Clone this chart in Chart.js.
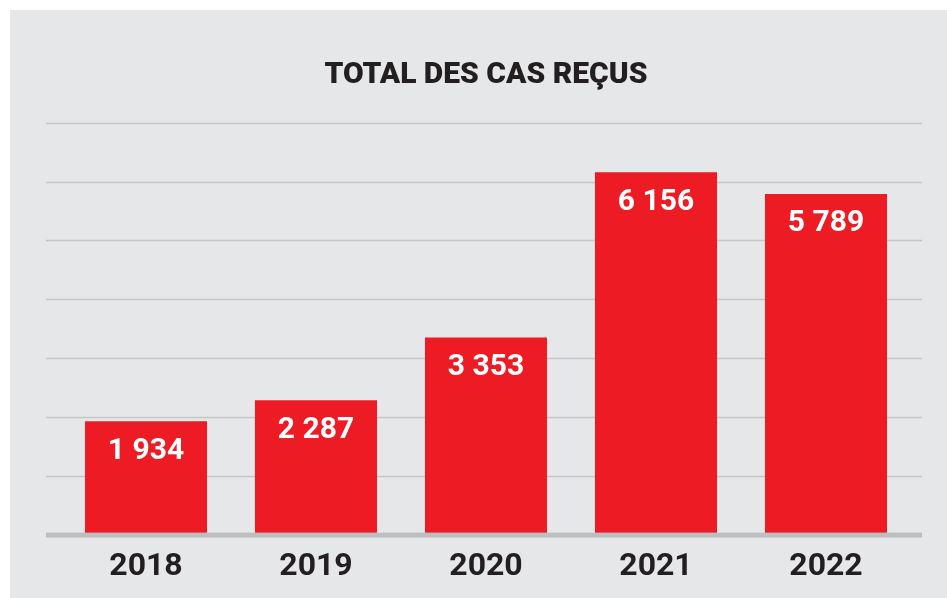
<!DOCTYPE html>
<html>
<head>
<meta charset="utf-8">
<script src="https://cdn.jsdelivr.net/npm/chart.js@4"></script>
<style>
  html, body { margin: 0; padding: 0; background: #fff; }
  #panel { position: absolute; left: 10px; top: 10px; width: 937px; height: 588px; background: #e6e7e8; }
  #chart { display: block; }
</style>
</head>
<body>
<div id="panel"><canvas id="chart" width="937" height="588"></canvas></div>
<script>
// data
const years = ['2018', '2019', '2020', '2021', '2022'];
const cases = [1934, 2287, 3353, 6156, 5789];
const yMax = 7000;
const yStep = 1000;

const RED = '#ed1c24';
const INK = '#231f20';
const FONT = 'Roboto, "Liberation Sans", sans-serif';

const fmt = v => String(v).replace(/\B(?=(\d{3})+(?!\d))/g, ' ');

// gridlines run wider than the bars, so draw them ourselves from the y scale
const gridPlugin = {
    id: 'wideGrid',
    beforeDatasetsDraw(chart) {
        const { ctx, scales: { y } } = chart;
        const left = 36, right = 912;
        ctx.save();
        ctx.strokeStyle = '#c4c5c7';
        ctx.lineWidth = 1.5;
        y.ticks.forEach(t => {
            if (t.value === 0) return;
            const py = Math.round(y.getPixelForValue(t.value)) + 0.5;
            ctx.beginPath();
            ctx.moveTo(left, py);
            ctx.lineTo(right, py);
            ctx.stroke();
        });
        ctx.restore();
    },
    afterDatasetsDraw(chart) {
        const { ctx, scales: { y } } = chart;
        const py = y.getPixelForValue(0);
        ctx.save();
        ctx.fillStyle = '#bcbec0';
        ctx.fillRect(36, py - 2.5, 876, 5);
        // values inside the top of each bar
        ctx.fillStyle = '#fff';
        ctx.font = 'bold 30px ' + FONT;
        ctx.textAlign = 'center';
        ctx.textBaseline = 'alphabetic';
        chart.getDatasetMeta(0).data.forEach((bar, i) => {
            ctx.fillText(fmt(cases[i]), bar.x, bar.y + 37.5);
        });
        ctx.restore();
    }
};

new Chart(document.getElementById('chart'), {
    type: 'bar',
    data: {
        labels: years,
        datasets: [{
            data: cases,
            backgroundColor: RED,
            borderWidth: 0,
            barPercentage: 0.718,
            categoryPercentage: 1
        }]
    },
    options: {
        responsive: false,
        animation: false,
        layout: { padding: { left: 51, right: 36, top: 0, bottom: -1.5 } },
        plugins: {
            legend: { display: false },
            tooltip: { enabled: false },
            title: {
                display: true,
                text: 'TOTAL DES CAS REÇUS',
                color: INK,
                font: { family: FONT, size: 30, weight: '900', lineHeight: 1.2 },
                padding: { top: 47, bottom: 29.6 }
            }
        },
        scales: {
            x: {
                grid: { display: false, drawTicks: false },
                border: { display: false },
                ticks: { color: INK, padding: 13, font: { family: FONT, size: 32, weight: 'bold', lineHeight: 1.2 } }
            },
            y: {
                display: false,
                min: 0,
                max: yMax,
                ticks: { stepSize: yStep }
            }
        }
    },
    plugins: [gridPlugin]
});
</script>
</body>
</html>
